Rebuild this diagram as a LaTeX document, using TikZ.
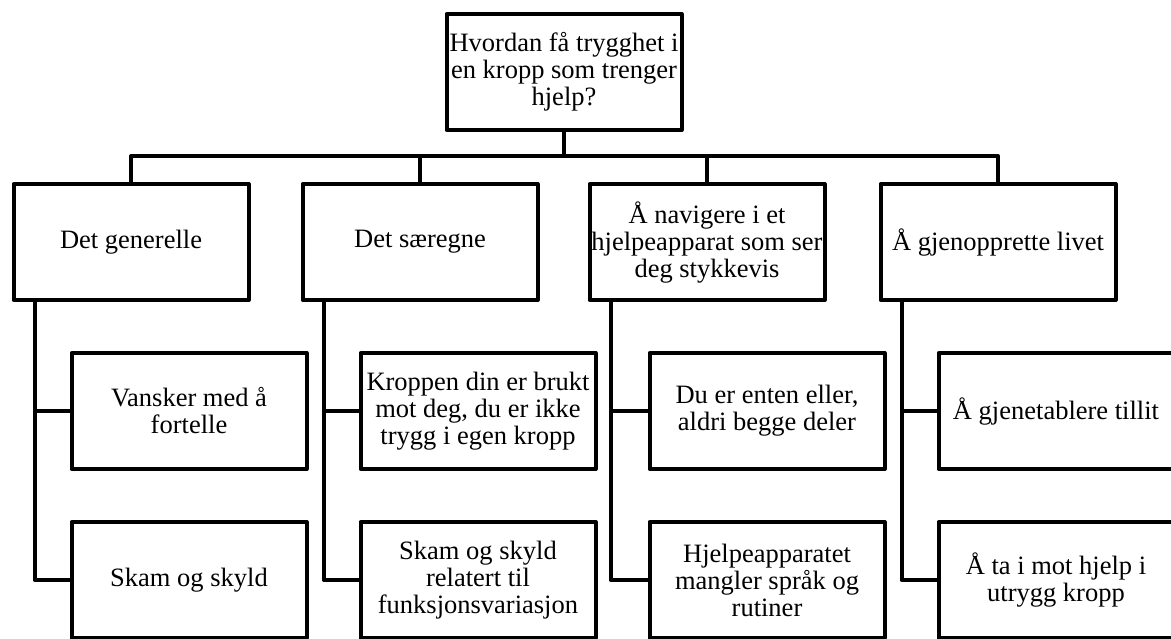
\documentclass[tikz,border=0pt]{standalone}
\usepackage{fontspec}
\setmainfont{Liberation Serif}
\usepackage{tikz}

\begin{document}
\begin{tikzpicture}[x=1pt,y=-1pt,
	boks/.style={draw,line width=4pt,line join=round,minimum width=235pt,minimum height=116pt,inner sep=1pt,align=center,font=\fontsize{26.5}{27}\selectfont},
	linje/.style={line width=4pt,line join=round}]
	\useasboundingbox (0,0) rectangle (1171,639);
	\node[boks] (rot) at (564,72) {Hvordan få trygghet i\\en kropp som trenger\\hjelp?}; % spørsmålet
	\node[boks] (generelle) at (131,242) {Det generelle};
	\node[boks] (saeregne) at (420,242) {Det særegne};
	\node[boks] (navigere) at (707,242) {Å navigere i et\\hjelpeapparat som ser\\deg stykkevis};
	\node[boks] (gjenopprette) at (998,242) {Å gjenopprette livet};
	\node[boks] (vansker) at (189,411) {Vansker med å\\fortelle};
	\node[boks] (skam) at (189,580) {Skam og skyld};
	\node[boks] (kroppen) at (478,411) {Kroppen din er brukt\\mot deg, du er ikke\\trygg i egen kropp};
	\node[boks] (skamvar) at (478,580) {Skam og skyld\\relatert til\\funksjonsvariasjon};
	\node[boks] (enten) at (767,411) {Du er enten eller,\\aldri begge deler};
	\node[boks] (mangler) at (767,580) {Hjelpeapparatet\\mangler språk og\\rutiner};
	\node[boks] (tillit) at (1056,411) {Å gjenetablere tillit};
	\node[boks] (utrygg) at (1056,580) {Å ta i mot hjelp i\\utrygg kropp};
	\coordinate (buss) at (564,156); % den vannrette linjen
	\draw[linje] (rot.south) -- (buss);
	\draw[linje] (generelle.north) |- (gjenopprette.north |- buss) -- (gjenopprette.north);
	\draw[linje] (saeregne.north) -- (saeregne.north |- buss);
	\draw[linje] (navigere.north) -- (navigere.north |- buss);
	\coordinate (generelle-fot) at ([xshift=23pt]generelle.south west);
	\coordinate (saeregne-fot) at ([xshift=23pt]saeregne.south west);
	\coordinate (navigere-fot) at ([xshift=23pt]navigere.south west);
	\coordinate (gjenopprette-fot) at ([xshift=23pt]gjenopprette.south west);
	\draw[linje] (generelle-fot) |- (skam.west) (generelle-fot |- vansker.west) -- (vansker.west);
	\draw[linje] (saeregne-fot) |- (skamvar.west) (saeregne-fot |- kroppen.west) -- (kroppen.west);
	\draw[linje] (navigere-fot) |- (mangler.west) (navigere-fot |- enten.west) -- (enten.west);
	\draw[linje] (gjenopprette-fot) |- (utrygg.west) (gjenopprette-fot |- tillit.west) -- (tillit.west);
\end{tikzpicture}
\end{document}
